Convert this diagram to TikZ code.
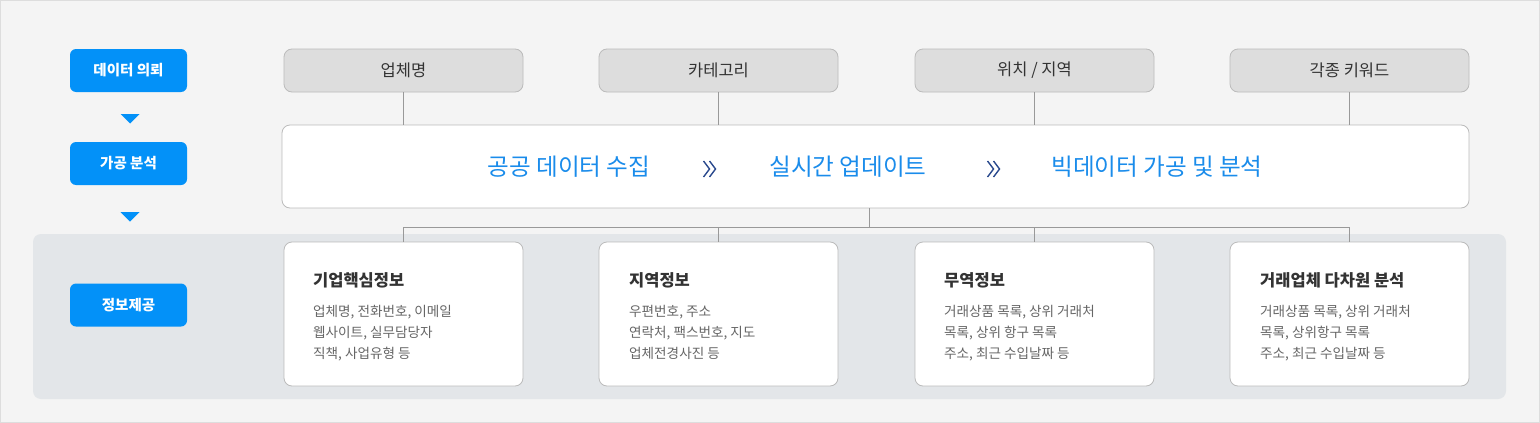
\documentclass[tikz,border=0pt]{standalone}
\usepackage{fontspec}
\usetikzlibrary{calc}
\setmainfont{Noto Sans CJK KR}
\definecolor{bgc}{HTML}{F4F4F4}
\definecolor{bgborder}{HTML}{DDDDDD}
\definecolor{bandc}{HTML}{E3E6E9}
\definecolor{btnblue}{HTML}{0391F8}
\definecolor{topgray}{HTML}{DDDDDD}
\definecolor{boxborder}{HTML}{BBBBBB}
\definecolor{linec}{HTML}{999999}
\definecolor{mainblue}{HTML}{1A8CEB}
\definecolor{chev}{HTML}{2B4A8E}
\definecolor{titlec}{HTML}{333333}
\definecolor{bodyc}{HTML}{666666}
\tikzset{
  btn/.style={fill=btnblue, rounded corners=6pt, minimum width=117pt, minimum height=43pt, inner sep=0pt, text=white, font=\bfseries\fontsize{14.5}{16}\selectfont},
  topbox/.style={fill=topgray, draw=boxborder, line width=0.8pt, rounded corners=8pt, minimum width=239pt, minimum height=43pt, inner sep=0pt, text=titlec, font=\fontsize{16.5}{19}\selectfont},
  card/.style={fill=white, draw=boxborder, line width=0.8pt, rounded corners=8pt, minimum width=239pt, minimum height=144pt, inner sep=0pt},
  conn/.style={draw=linec, line width=0.8pt},
  tri/.style={fill=btnblue, draw=none},
  maintext/.style={text=mainblue, font=\fontsize{23.6}{28}\selectfont, inner sep=0pt},
  ctitle/.style={anchor=west, text=titlec, font=\bfseries\fontsize{16.5}{19}\selectfont, inner sep=0pt},
  cbody/.style={anchor=north west, text=bodyc, font=\fontsize{13.6}{21}\selectfont, inner sep=0pt, align=left},
  chevline/.style={draw=chev, line width=1.4pt}
}
\begin{document}
\begin{tikzpicture}[x=1pt,y=-1pt]
\useasboundingbox (0,0) rectangle (1540,423);
\fill[bgc] (0,0) rectangle (1540,423);
\draw[bgborder, line width=1pt] (0.5,0.5) rectangle (1539.5,422.5);
\fill[bandc, rounded corners=8pt] (33,234) rectangle (1506,399);

% left steps
\node[btn] (s1) at (128.5,70.5) {데이터 의뢰};
\node[btn] (s2) at (128.5,163.5) {가공 분석};
\node[btn] (s3) at (128.5,305) {정보제공};
\coordinate (t1) at (130,114);
\coordinate (t2) at (130,212);
\fill[tri] ($(t1)+(-9.5,0)$) -- ($(t1)+(9.5,0)$) -- ($(t1)+(0,9.5)$) -- cycle;
\fill[tri] ($(t2)+(-9.5,0)$) -- ($(t2)+(9.5,0)$) -- ($(t2)+(0,9.5)$) -- cycle;

% top boxes
\node[topbox] (a1) at (403.5,70.5) {업체명};
\node[topbox] (a2) at (718.5,70.5) {카테고리};
\node[topbox] (a3) at (1034.5,70.5) {위치 / 지역};
\node[topbox] (a4) at (1349.5,70.5) {각종 키워드};

% main box
\node[fill=white, draw=boxborder, line width=0.8pt, rounded corners=8pt, minimum width=1187pt, minimum height=83pt, inner sep=0pt] (m) at (875.5,166.5) {};
\node[maintext] (p1) at (569,167) {공공 데이터 수집};
\node[maintext] (p2) at (848,167) {실시간 업데이트};
\node[maintext] (p3) at (1157,167) {빅데이터 가공 및 분석};
\coordinate (c1) at (710.5,169);
\coordinate (c2) at (994.5,169);
\foreach \c in {c1,c2}{
  \draw[chevline] ($(\c)+(-7,-8)$) -- ($(\c)+(-1,0)$) -- ($(\c)+(-7,8)$);
  \draw[chevline] ($(\c)+(-1,-8)$) -- ($(\c)+(5,0)$) -- ($(\c)+(-1,8)$);
}

% cards
\node[card] (b1) at (403.5,314) {};
\node[card] (b2) at (718.5,314) {};
\node[card] (b3) at (1034.5,314) {};
\node[card] (b4) at (1349.5,314) {};

% connectors top
\foreach \i in {1,2,3,4}{
  \draw[conn] (a\i.south) -- (a\i.south |- m.north);
}
\coordinate (hub) at ($(m.south)+(-6.5,19)$);
\draw[conn] (m.south -| hub) -- (hub);
\draw[conn] (b1.north |- hub) -- (b4.north |- hub);
\foreach \i in {1,2,3,4}{
  \draw[conn] (b\i.north |- hub) -- (b\i.north);
}

% card texts
\node[ctitle] (h1) at (313,280.5) {기업핵심정보};
\node[cbody] (d1) at (313,305) {업체명, 전화번호, 이메일\\웹사이트, 실무담당자\\직책, 사업유형 등};
\node[ctitle] (h2) at (629,280.5) {지역정보};
\node[cbody] (d2) at (629,305) {우편번호, 주소\\연락처, 팩스번호, 지도\\업체전경사진 등};
\node[ctitle] (h3) at (944,280.5) {무역정보};
\node[cbody] (d3) at (944,305) {거래상품 목록, 상위 거래처\\목록, 상위 항구 목록\\주소, 최근 수입날짜 등};
\node[ctitle] (h4) at (1260,280.5) {거래업체 다차원 분석};
\node[cbody] (d4) at (1260,305) {거래상품 목록, 상위 거래처\\목록, 상위항구 목록\\주소, 최근 수입날짜 등};
\end{tikzpicture}
\end{document}
